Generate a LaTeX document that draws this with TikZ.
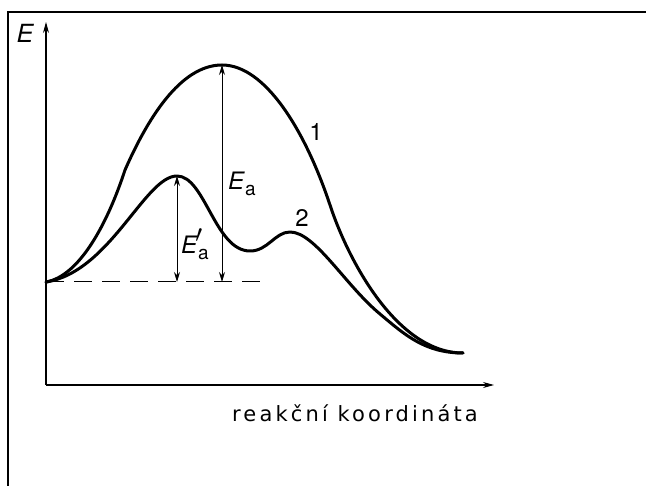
\documentclass[tikz,border=0pt]{standalone}
\usepackage{fontspec}
\setmainfont{TeX Gyre Heros}
\newfontfamily\axisfont{DejaVu Sans}
\usetikzlibrary{arrows.meta}
\begin{document}
\begin{tikzpicture}[x=1pt,y=-1pt,
  curve/.style={line width=3pt,line join=round,line cap=round},
  axis/.style={line width=1.1pt,-{Stealth[length=11pt,width=6pt]}},
  dimarrow/.style={line width=0.9pt,{Stealth[length=10pt,width=6pt]}-{Stealth[length=10pt,width=6pt]}},
  lbl/.style={font=\fontsize{24}{24}\selectfont,inner sep=1pt}]
\useasboundingbox (0,0) rectangle (646,486);
\fill[white] (0,0) rectangle (646,486);
% frame
\draw[line width=1.4pt] (8,486) -- (8,12) -- (646,12);
% axes
\coordinate (O) at (46,385);
\coordinate (Ytop) at (46,22);
\coordinate (Xend) at (494,385);
\draw[axis] (O) -- (Ytop);
\draw[axis] (O) -- (Xend);
\node[font=\fontsize{25}{25}\selectfont\itshape] (E) at (25,33) {E};
% curves
\coordinate (S) at (46,282);
\coordinate (F) at (463,353);
\coordinate (P1) at (222,65);
\coordinate (P2) at (177,176);
\draw[curve] (S) .. controls (80,276) and (108,222) .. (125,170)
  .. controls (147,120) and (180,65) .. (P1)
  .. controls (265,65) and (305,130) .. (330,205)
  .. controls (348,260) and (397,353) .. (F);
\draw[curve] (S) .. controls (110,272) and (145,176) .. (P2)
  .. controls (205,176) and (215,251) .. (250,251)
  .. controls (268,251) and (275,232) .. (290,232)
  .. controls (315,232) and (345,285) .. (380,314)
  .. controls (405,335) and (425,353) .. (F);
% dashed baseline
\coordinate (B1) at (266,282);
\draw[line width=1pt,dash pattern=on 18pt off 10pt] (S) -- (B1);
% dimension arrows
\coordinate (P2b) at (177,282);
\coordinate (P1b) at (222,282);
\draw[dimarrow] (P2) -- (P2b);
\draw[dimarrow] (P1) -- (P1b);
% labels
\node[lbl] (L1) at (316,132) {1};
\node[lbl] (L2) at (302,218) {2};
\node[lbl,anchor=west] (Ea) at (227,184) {\textit{E}\raisebox{-0.25em}{\fontsize{19}{19}\selectfont a}};
\node[lbl,anchor=west] (Eap) at (180,244) {\textit{E}\raisebox{-0.25em}{\fontsize{19}{19}\selectfont a}\kern-0.55em\raisebox{0.45em}{$\prime$}};
\node[font=\fontsize{21}{21}\axisfont\addfontfeature{LetterSpace=15}\selectfont] (X) at (355,413) {reakční koordináta};
\end{tikzpicture}
\end{document}
